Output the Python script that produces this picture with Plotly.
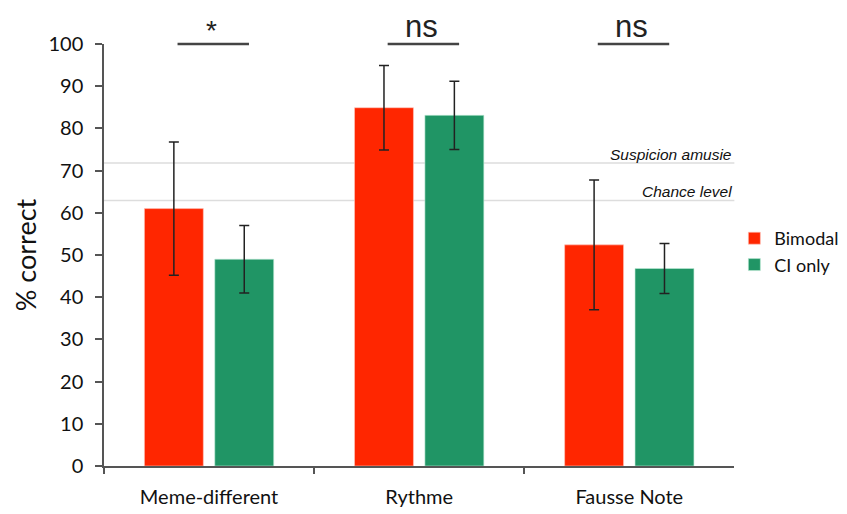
import plotly.graph_objects as go

categories = ["Meme-different", "Rythme", "Fausse Note"]
bimodal = [61.0, 84.9, 52.4]
bimodal_err = [15.8, 10.0, 15.4]
ci_only = [49.0, 83.1, 46.8]
ci_only_err = [8.0, 8.1, 5.9]
significance = ["*", "ns", "ns"]
ref_values = [71.8, 62.9]
ref_labels = ["Suspicion amusie", "Chance level"]
y_ticks = [0, 10, 20, 30, 40, 50, 60, 70, 80, 90, 100]

FONT = "Lato"
RED = "#FF2600"
GREEN = "#209565"

fig = go.Figure()
fig.add_trace(go.Bar(
    x=categories, y=bimodal, name="Bimodal",
    marker=dict(color=RED, line=dict(color="rgba(255,200,190,0.6)", width=1)),
    error_y=dict(type="data", array=bimodal_err, visible=True,
                 color="#222222", thickness=1.5, width=5),
))
fig.add_trace(go.Bar(
    x=categories, y=ci_only, name="CI only",
    marker=dict(color=GREEN, line=dict(color="rgba(190,235,215,0.6)", width=1)),
    error_y=dict(type="data", array=ci_only_err, visible=True,
                 color="#222222", thickness=1.5, width=5),
))

shapes = []
annotations = []
for v, lab in zip(ref_values, ref_labels):
    shapes.append(dict(type="line", xref="paper", yref="y", x0=0, x1=1, y0=v, y1=v,
                       line=dict(color="#dddddd", width=1.5), layer="below"))
    annotations.append(dict(xref="paper", yref="y", x=1, y=v, text="<i>" + lab + "</i>",
                            xanchor="right", yanchor="middle", showarrow=False,
                            yshift=9,
                            font=dict(family="Liberation Sans", size=15.5, color="#111111")))

for i, s in enumerate(significance):
    shapes.append(dict(type="line", xref="x", yref="paper", x0=i - 0.15, x1=i + 0.19,
                       y0=1, y1=1, line=dict(color="#444444", width=2.5)))
    annotations.append(dict(xref="x", yref="paper", x=i + 0.01, y=1, text=s,
                            showarrow=False, xanchor="center", yanchor="middle",
                            yshift=18 if s == "ns" else 14,
                            font=dict(family="Liberation Sans", size=31 if s == "ns" else 28,
                                      color="#222222")))

fig.update_layout(
    width=847, height=514, autosize=False,
    margin=dict(l=104, r=109, t=44, b=48),
    paper_bgcolor="white", plot_bgcolor="white",
    barmode="group", bargap=0.33, bargroupgap=0.163,
    font=dict(family=FONT, color="#222222"),
    shapes=shapes, annotations=annotations,
    showlegend=True,
    legend=dict(xref="container", yref="container", x=0.867, y=0.572,
                xanchor="left", yanchor="top",
                font=dict(family=FONT, size=18, color="#111111"),
                tracegroupgap=8, itemwidth=30, bgcolor="rgba(0,0,0,0)"),
    xaxis=dict(type="category", range=[-0.5, 2.5], showline=True, linecolor="#555555",
               linewidth=1.5, ticks="outside", tickson="boundaries", ticklen=6,
               tickcolor="#555555", tickwidth=1.5, showgrid=False, zeroline=False,
               ticklabelstandoff=12, automargin=False,
               tickfont=dict(family=FONT, size=20, color="#111111")),
    yaxis=dict(range=[0, 100], tickvals=y_ticks, showline=True, linecolor="#555555",
               linewidth=1.5, ticks="outside", ticklen=7, tickcolor="#555555",
               tickwidth=1.5, showgrid=False, zeroline=False,
               ticklabelstandoff=8, automargin=False,
               tickfont=dict(family=FONT, size=20, color="#111111"),
               title=dict(text="% correct", font=dict(family=FONT, size=27, color="#111111"),
                          standoff=4)),
)

post = ("document.body.style.margin='0';"
        "document.documentElement.style.overflow='hidden';"
        "document.body.style.overflow='hidden';")

fig.write_html("out.html", config={"responsive": False, "displayModeBar": False},
               post_script=post)
